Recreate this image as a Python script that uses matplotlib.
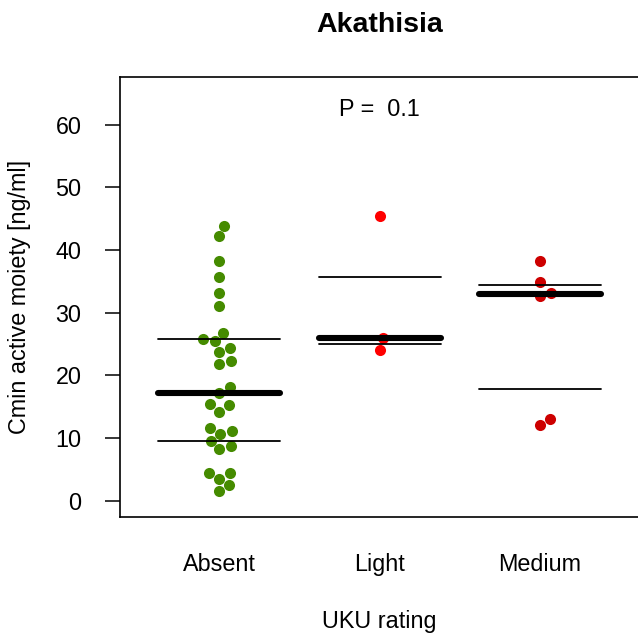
import numpy as np
import matplotlib
matplotlib.use('Agg')
import matplotlib.pyplot as plt

plt.rcParams['font.family'] = ['Liberation Sans', 'DejaVu Sans']

# data
groups = ['Absent', 'Light', 'Medium']
absent = [1.5, 2.45, 3.5, 4.4, 4.4, 8.3, 8.8, 9.6, 10.7, 11.2,
          11.6, 14.2, 15.2, 15.4, 17.2, 18.1, 21.8, 22.3, 23.8, 24.4,
          25.5, 25.85, 26.8, 31.0, 33.1, 35.7, 38.3, 42.2, 43.9]
light = [24.1, 25.9, 45.4]
medium = [12.1, 13.0, 32.6, 33.2, 34.9, 38.3]
group_colors = ['#458B00', '#FF0000', '#CD0000']
yticks = [0, 10, 20, 30, 40, 50, 60]
p_label = 'P =  0.1'


def swarm_offsets(y_px, size):
    # simple beeswarm: place each point (ascending) as close to the centre as possible
    order = np.argsort(y_px, kind='stable')
    placed = []
    out = np.zeros(len(y_px))
    for i in order:
        y = y_px[i]
        near = [(px, py) for px, py in placed if abs(py - y) < size]
        cands = [0.0]
        for px, py in near:
            dx = np.sqrt(size**2 - (py - y)**2)
            cands += [px + dx, px - dx]
        cands.sort(key=lambda c: (abs(c), -c))
        for c in cands:
            if all((c - px)**2 + (y - py)**2 >= size**2 - 1e-6 for px, py in near):
                out[i] = c
                break
        placed.append((out[i], y))
    return out


fs = 16.8
fig = plt.figure(figsize=(6.38, 6.39), dpi=100)
ax = fig.add_axes([120/638, 1 - 517/639, 519.5/638, 440/639])
ax.set_xlim(0.38, 3.62)
ax.set_ylim(-2.6, 67.6)

# pixels per data unit
p0 = ax.transData.transform((0, 0))
p1 = ax.transData.transform((1, 1))
sx, sy = p1[0] - p0[0], p1[1] - p0[1]

data = [absent, light, medium]
for k, vals in enumerate(data):
    vals = np.array(vals)
    pos = k + 1
    off = swarm_offsets(vals * sy, 11.7) / sx
    ax.plot(pos + off, vals, 'o', color=group_colors[k], markersize=8,
            markeredgewidth=0, zorder=2)
    q1, med, q3 = np.percentile(vals, [25, 50, 75])
    for q, lw in [(q1, 1.3), (q3, 1.3), (med, 4.4)]:
        ax.plot([pos - 0.38, pos + 0.38], [q, q], color='black', lw=lw,
                solid_capstyle='round', zorder=3)

ax.text(2, 61.3, p_label, ha='center', va='baseline', fontsize=fs)

ax.set_yticks(yticks)
ax.set_yticklabels([str(t) for t in yticks])
ax.set_xticks([1, 2, 3])
ax.set_xticklabels(groups)
ax.tick_params(axis='y', direction='out', length=10.8, width=1.1, pad=17, labelsize=fs)
ax.tick_params(axis='x', length=0, pad=26, labelsize=fs)
for s in ax.spines.values():
    s.set_linewidth(1.2)

fig.text(20/638, 0.535, 'Cmin active moiety [ng/ml]', rotation=90,
         ha='center', va='center', fontsize=fs)
fig.text(379.7/638, 11/639, 'UKU rating', ha='center', va='baseline', fontsize=fs)
fig.text(379.7/638, 1 - 32/639, 'Akathisia', ha='center', va='baseline',
         fontsize=20.5, fontweight='bold')

fig.savefig('out.png', dpi=100)
